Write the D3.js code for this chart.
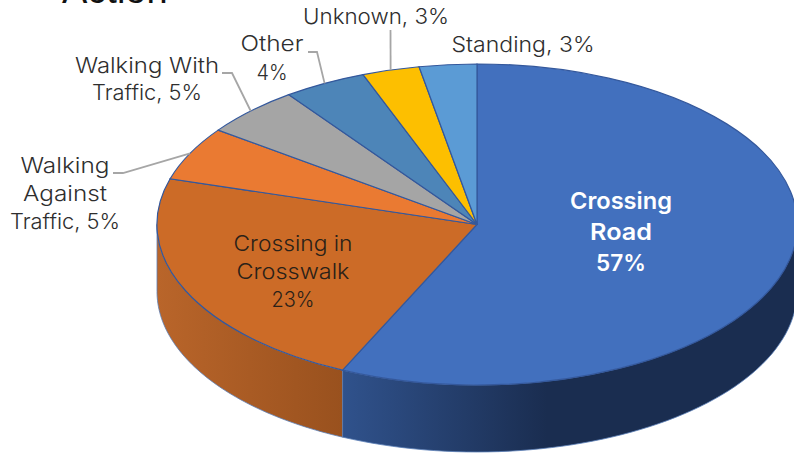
<!DOCTYPE html>
<html>
<head>
<meta charset="utf-8">
<script src="https://cdn.jsdelivr.net/npm/d3@7"></script>
<style>
  html, body { margin: 0; padding: 0; background: #fff; overflow: hidden; }
  text { font-family: "Inter", "Open Sans", sans-serif; font-size: 21.5px; font-weight: 300; fill: #2e2e2e; text-anchor: middle; }
  .title { font-family: "Liberation Sans", sans-serif; font-size: 38px; font-weight: 400; fill: #111; text-anchor: start; }
  .inside { fill: #2a2118; }
  .road { fill: #fff; font-weight: 600; font-size: 23px; }
</style>
</head>
<body>
<div id="vis"></div>
<script>
// Slice values, clockwise from 12 o'clock
const CATEGORIES = ["Crossing Road", "Crossing in Crosswalk", "Walking Against Traffic", "Walking With Traffic", "Other", "Unknown", "Standing"];
const VALUES = [56.9, 22.7, 5.4, 5.0, 4.2, 2.9, 2.9];
const LABEL_LINES = [
  ["Crossing", "Road", "57%"],
  ["Crossing in", "Crosswalk", "23%"],
  ["Walking", "Against", "Traffic, 5%"],
  ["Walking With", "Traffic, 5%"],
  ["Other", "4%"],
  ["Unknown, 3%"],
  ["Standing, 3%"]
];
const COLORS = ["#4270be", "#cc6b27", "#ea7a32", "#a5a5a5", "#4d85b8", "#fdbf00", "#5b9bd5"];

// Layout
const WIDTH = 794, HEIGHT = 455;
const CX = 477, CY = 224.5, RX = 320, RY = 160.5, DEPTH = 67;
// label anchor x, first baseline y, line gap
const LABEL_POS = [
  {x: 621, y: 209, gap: 31},
  {x: 293, y: 251, gap: 28},
  {x: 65, y: 173, gap: 28},
  {x: 147, y: 73, gap: 27},
  {x: 272, y: 51, gap: 29},
  {x: 376, y: 24, gap: 0},
  {x: 523, y: 52, gap: 0}
];
// drawn width of each label line, the font is only a stand-in for the original
const LINE_WIDTHS = [
  [102, 62, 50],
  [119, 113, 43],
  [89, 84, 110],
  [144, 110],
  [63, 31],
  [146],
  [143]
];
// leader elbow points for the outside labels, by slice index
const LEADERS = {
  2: [[113, 173], [123, 173]],
  3: [[222, 73], [232, 73]],
  4: [[308, 52], [317, 52]],
  5: [[390.5, 30]]
};

const X_SCALE = d3.scaleLinear().domain([-1, 1]).range([CX - RX, CX + RX]);
const Y_SCALE = d3.scaleLinear().domain([-1, 1]).range([CY - RY, CY + RY]);

// point on the top ellipse, angle clockwise from 12 o'clock
const rim = (a) => [X_SCALE(Math.sin(a)), Y_SCALE(-Math.cos(a))];

const arcs = d3.pie().sort(null).value(d => d)(VALUES);

const FRAME = d3.select("#vis").append("svg")
  .attr("width", WIDTH)
  .attr("height", HEIGHT)
  .style("display", "block");

const defs = FRAME.append("defs");

function wallGradient(id, stops, x1, x2) {
  const g = defs.append("linearGradient")
    .attr("id", id)
    .attr("gradientUnits", "userSpaceOnUse")
    .attr("x1", x1).attr("x2", x2).attr("y1", 0).attr("y2", 0);
  stops.forEach(s => g.append("stop").attr("offset", s[0]).attr("stop-color", s[1]));
}
const SPLIT_X = X_SCALE(Math.sin(arcs[0].endAngle));
wallGradient("wall0", [[0, "#30528c"], [0.45, "#1a2d50"], [1, "#1a2d50"]], SPLIT_X, CX + RX);
wallGradient("wall1", [[0, "#b9652a"], [1, "#99511e"]], CX - RX, SPLIT_X);

// side walls, only the front half of the disc shows
const wallLine = d3.line();
[0, 1].forEach(i => {
  const start = Math.max(arcs[i].startAngle, Math.PI / 2);
  const end = Math.min(arcs[i].endAngle, Math.PI * 1.5);
  const angles = d3.range(0, 61).map(k => start + (end - start) * k / 60);
  const top = angles.map(rim);
  const bottom = angles.map(rim).reverse().map(p => [p[0], p[1] + DEPTH]);
  FRAME.append("path")
    .attr("d", wallLine(top.concat(bottom)) + "Z")
    .attr("fill", "url(#wall" + i + ")")
    .attr("stroke", "#5a7fb8")
    .attr("stroke-width", 0.8);
});

// top face, a unit pie squashed into the ellipse
const ARC = d3.arc().innerRadius(0).outerRadius(1);
FRAME.append("g")
  .attr("transform", "translate(" + CX + "," + CY + ") scale(" + RX + "," + RY + ")")
  .selectAll("path")
  .data(arcs)
  .enter()
  .append("path")
  .attr("d", ARC)
  .attr("fill", (d, i) => COLORS[i])
  .attr("stroke", "#34589c")
  .attr("stroke-width", 1.2)
  .attr("vector-effect", "non-scaling-stroke");

// leader lines run from the label to the middle of the slice rim
const leaderLine = d3.line();
Object.keys(LEADERS).forEach(k => {
  const mid = (arcs[k].startAngle + arcs[k].endAngle) / 2;
  FRAME.append("path")
    .attr("d", leaderLine(LEADERS[k].concat([rim(mid)])))
    .attr("fill", "none")
    .attr("stroke", "#a6a6a6")
    .attr("stroke-width", 1.8);
});

// labels
LABEL_LINES.forEach((lines, i) => {
  lines.forEach((line, j) => {
    FRAME.append("text")
      .attr("class", i === 0 ? "road" : (i === 1 ? "inside" : null))
      .attr("x", LABEL_POS[i].x)
      .attr("y", LABEL_POS[i].y + j * LABEL_POS[i].gap)
      .attr("textLength", LINE_WIDTHS[i][j])
      .attr("lengthAdjust", "spacingAndGlyphs")
      .text(line);
  });
});

// chart title, cut off by the top of the picture
FRAME.append("text")
  .attr("class", "title")
  .attr("x", 62)
  .attr("y", 3)
  .text("Action");
</script>
</body>
</html>
